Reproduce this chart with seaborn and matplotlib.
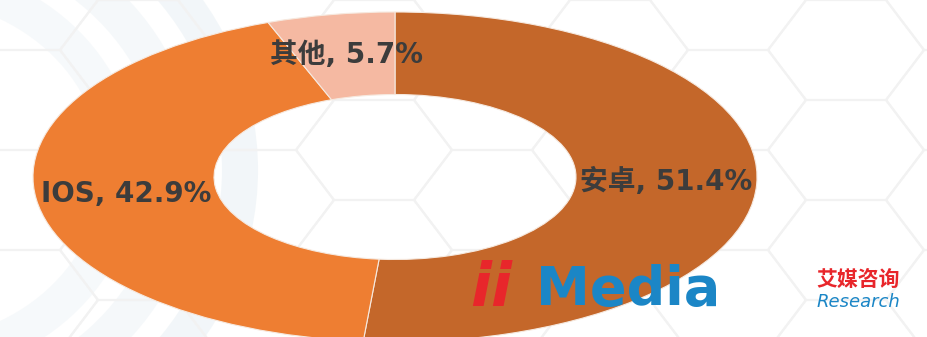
import numpy as np
import matplotlib
matplotlib.use("Agg")
import matplotlib.pyplot as plt
import seaborn as sns
from matplotlib.patches import Polygon, Ellipse

# ---- data ----
categories = ["安卓", "IOS", "其他"]
shares = [51.4, 42.9, 5.7]
colors = ["#C4672A", "#EE7E32", "#F5B9A2"]

sns.set_theme(style="white")
plt.rcParams['font.family'] = ['DejaVu Sans', 'Noto Sans CJK SC']

W, H = 928, 337
fig = plt.figure(figsize=(W / 100, H / 100), dpi=100)
fig.patch.set_facecolor("white")

# ---- decorative background (pixel coordinates) ----
bg = fig.add_axes([0, 0, 1, 1], zorder=0)
bg.set_xlim(0, W)
bg.set_ylim(H, 0)
bg.axis("off")
# faint bluish arcs on the left
for r, a in [(330, 0.45), (270, 0.35), (210, 0.30)]:
    bg.add_patch(Ellipse((-90, 170), 2 * r, 2 * r * 0.9, fill=False,
                         ec="#e4edf2", lw=26, alpha=a))
# faint hexagon grid
hw, hh = 80, 50
for col in range(-1, 9):
    cx = col * 118 + 20
    off = 0 if col % 2 == 0 else hh
    for row in range(-1, 5):
        cy = row * 2 * hh + off
        pts = [(cx - hw / 2, cy - hh), (cx + hw / 2, cy - hh), (cx + hw / 2 + 38, cy),
               (cx + hw / 2, cy + hh), (cx - hw / 2, cy + hh), (cx - hw / 2 - 38, cy)]
        bg.add_patch(Polygon(pts, closed=True, fill=False, ec="#f2f2f2", lw=1.5))

# ---- donut ----
ax = fig.add_axes([0, 0, 1, 1], zorder=1)
ax.patch.set_alpha(0)
wedges, _ = ax.pie(shares, colors=colors, startangle=90, counterclock=False,
                   radius=1.0,
                   wedgeprops=dict(width=0.5, edgecolor="#f6e9df", linewidth=0.8))
ax.set_aspect("auto")
cx_px, cy_px, rx_px, ry_px = 395, 177, 362, 165
ax.set_xlim(-cx_px / rx_px, (W - cx_px) / rx_px)
ax.set_ylim(-(H - cy_px) / ry_px, cy_px / ry_px)
ax.axis("off")

for w, cat, v in zip(wedges, categories, shares):
    mid = np.deg2rad((w.theta1 + w.theta2) / 2)
    ax.text(0.75 * np.cos(mid), 0.75 * np.sin(mid), f"{cat}, {v}%",
            ha="center", va="center", fontsize=20, fontweight="bold",
            color="#3c3c3c")

# ---- logo ----
fig.text(470 / W, 1 - 290 / H, "ii", color="#E8262B", fontsize=44,
         fontweight="bold", style="italic", ha="left", va="center",
         family=["DejaVu Sans"])
fig.text(536 / W, 1 - 290 / H, "Media", color="#1B86C6", fontsize=39,
         fontweight="heavy", ha="left", va="center", family=["DejaVu Sans"])
fig.text(858 / W, 1 - 280 / H, "艾媒咨询", color="#E8262B", fontsize=15,
         fontweight="bold", ha="center", va="center")
fig.text(858 / W, 1 - 302 / H, "Research", color="#1B86C6", fontsize=13,
         style="italic", ha="center", va="center", family=["DejaVu Sans"])

fig.savefig("out.png", dpi=100)
